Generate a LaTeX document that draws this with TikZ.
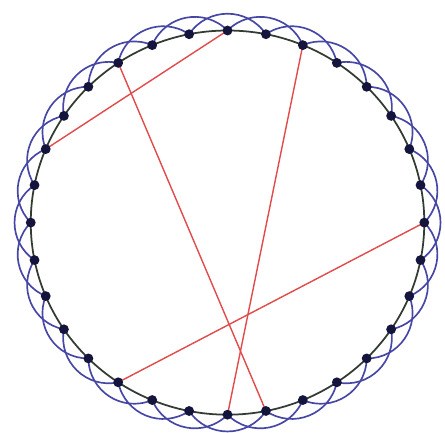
\documentclass[tikz,border=0pt]{standalone}
\usetikzlibrary{positioning}

\definecolor{rimgreen}{RGB}{50,60,50}
\definecolor{scallopblue}{RGB}{70,70,165}
\definecolor{chordred}{RGB}{225,75,75}
\definecolor{dotnavy}{RGB}{20,20,60}

\begin{document}
\begin{tikzpicture}[
  x=0.0205cm, y=0.02cm,
  rim/.style={draw=rimgreen, line width=1pt},
  scallop/.style={draw=scallopblue, line width=0.95pt},
  chord/.style={draw=chordred, line width=0.8pt},
  dot/.style={circle, fill=dotnavy, inner sep=0pt, minimum size=5.6pt}
]
\useasboundingbox (-222,-209.5) rectangle (212.2,222.5);
\coordinate (c) at (0,0);
\foreach \k in {0,...,31}
  \coordinate (p\k) at ({90+\k*11.25}:192);

\draw[rim] (c) circle[radius=192];

% outer scallops, each one jumps over a point
\foreach \k [evaluate=\k as \j using {int(mod(\k+2,32))}] in {0,...,31}
  \draw[scallop] (p\k) to[bend right=56, looseness=1.1] (p\j);

\draw[chord] (p0) -- (p6);
\draw[chord] (p3) -- (p17);
\draw[chord] (p30) -- (p16);
\draw[chord] (p24) -- (p13);

\foreach \k in {0,...,31}
  \node[dot] (d\k) at (p\k) {};
\end{tikzpicture}
\end{document}
